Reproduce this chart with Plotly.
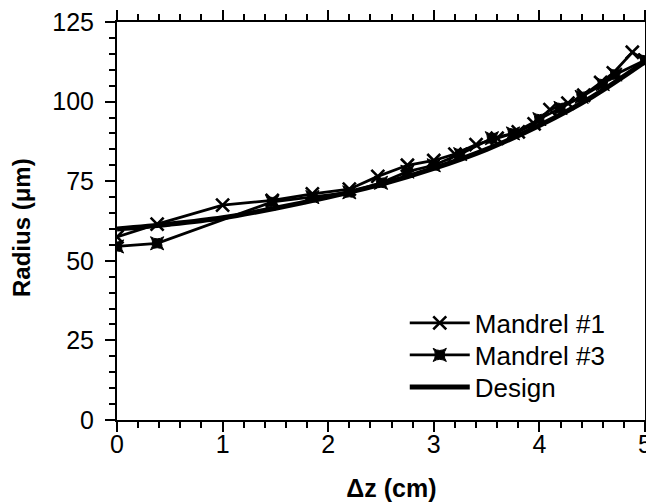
import plotly.graph_objects as go

# Mandrel #1 (x markers)
m1_x = [0, 0.38, 1.0, 1.47, 1.85, 2.2, 2.47, 2.75, 3.0, 3.2, 3.4, 3.6, 3.8, 3.95, 4.1, 4.27, 4.42, 4.58, 4.7, 4.88, 5.0]
m1_y = [57.5, 61.5, 67.5, 69.0, 71.0, 72.5, 76.5, 80.0, 81.5, 83.5, 86.5, 88.5, 90.5, 93.0, 97.5, 99.5, 102.0, 106.0, 109.0, 115.5, 113.0]

# Mandrel #3 (filled star markers)
m3_x = [0, 0.38, 1.47, 1.85, 2.2, 2.5, 2.75, 3.0, 3.25, 3.55, 3.75, 4.0, 4.2, 4.4, 4.6, 4.72, 5.0]
m3_y = [54.5, 55.5, 68.5, 70.0, 71.5, 74.5, 78.0, 80.0, 83.5, 88.5, 90.0, 94.5, 98.0, 101.5, 105.5, 108.5, 113.0]

# Design curve
d_x = [0, 0.5, 1.0, 1.5, 2.0, 2.5, 3.0, 3.5, 4.0, 4.5, 5.0]
d_y = [60.0, 61.5, 63.5, 66.5, 70.0, 74.0, 79.0, 85.0, 92.5, 101.5, 112.5]

x_ticks = [0, 1, 2, 3, 4, 5]
y_ticks = [0, 25, 50, 75, 100, 125]

FONT = "Liberation Sans, Arial, Helvetica, sans-serif"

fig = go.Figure()
fig.add_trace(go.Scatter(
    x=m1_x, y=m1_y, mode="lines+markers", name="Mandrel #1", legend="legend",
    line=dict(color="black", width=2.8),
    marker=dict(symbol="x-thin-open", size=13, color="black", line=dict(color="black", width=2.6)),
))
fig.add_trace(go.Scatter(
    x=m3_x, y=m3_y, mode="lines+markers", name="Mandrel #3", legend="legend2",
    line=dict(color="black", width=2.8),
    marker=dict(symbol="star-square", size=12, color="black", line=dict(color="black", width=1)),
))
fig.add_trace(go.Scatter(
    x=d_x, y=d_y, mode="lines", name="Design", legend="legend3",
    line=dict(color="black", width=5, shape="spline"),
))

axis_common = dict(
    showline=True, linecolor="black", linewidth=2, mirror="allticks",
    ticks="outside", ticklen=10, tickwidth=2, tickcolor="black",
    showgrid=False, zeroline=False, automargin=False,
    ticklabeloverflow="allow",
    tickfont=dict(family=FONT, size=25, color="black"),
)

fig.update_xaxes(
    range=[0, 5], tickvals=x_ticks, ticktext=[str(v) for v in x_ticks],
    minor=dict(dtick=0.2, ticks="outside", ticklen=6, tickwidth=1.5, tickcolor="black", showgrid=False),
    title=dict(text="<b>\u00a0\u00a0\u00a0Δz (cm)</b>", font=dict(family=FONT, size=25, color="black"), standoff=22),
    ticklabelstandoff=-9,
    **axis_common,
)
fig.update_yaxes(
    range=[0, 125], tickvals=y_ticks, ticktext=[str(v) for v in y_ticks],
    minor=dict(dtick=5, ticks="outside", ticklen=6, tickwidth=1.5, tickcolor="black", showgrid=False),
    title=dict(text="<b>Radius (μm)\u00a0\u00a0</b>", font=dict(family=FONT, size=24, color="black"), standoff=16),
    ticklabelstandoff=6,
    **axis_common,
)

legend_common = dict(
    x=0.545, xanchor="left", yanchor="middle",
    bgcolor="rgba(0,0,0,0)", borderwidth=0,
    font=dict(family=FONT, size=26, color="black"),
    itemwidth=60,
)

fig.update_layout(
    width=646, height=494,
    margin=dict(l=109, r=9, t=14, b=82),
    paper_bgcolor="white", plot_bgcolor="white",
    showlegend=True,
    legend=dict(y=0.2437, **legend_common),
    legend2=dict(y=0.1633, **legend_common),
    legend3=dict(y=0.0829, **legend_common),
)

fig.write_html("out.html")
